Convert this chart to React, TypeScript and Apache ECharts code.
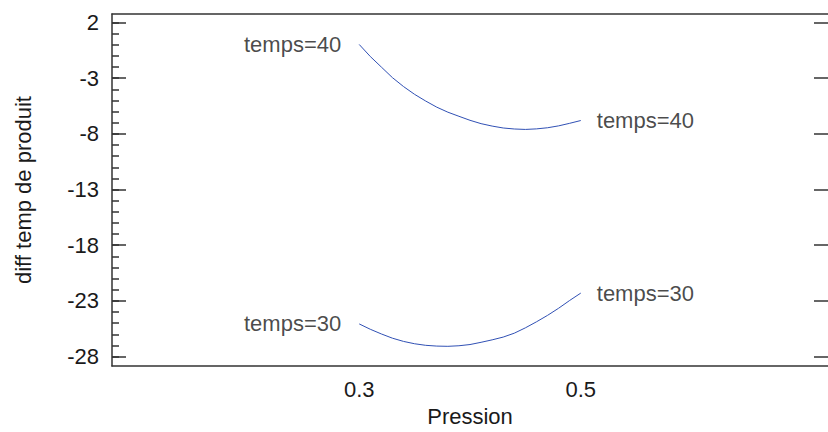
import React, { useEffect, useRef } from "react";
import * as echarts from "echarts";

const pression = [0.30, 0.31, 0.32, 0.33, 0.34, 0.35, 0.36, 0.37, 0.38, 0.39, 0.40, 0.41, 0.42, 0.43, 0.44, 0.45, 0.46, 0.47, 0.48, 0.49, 0.50];
const temps40 = [0.03, -1.05, -2.0, -2.95, -3.75, -4.45, -5.05, -5.6, -6.05, -6.42, -6.78, -7.08, -7.3, -7.47, -7.56, -7.6, -7.55, -7.45, -7.28, -7.05, -6.8];
const temps30 = [-25.07, -25.55, -25.97, -26.35, -26.64, -26.85, -26.99, -27.06, -27.08, -27.03, -26.92, -26.72, -26.5, -26.25, -25.9, -25.42, -24.88, -24.3, -23.66, -22.96, -22.3];
const seriesNames = ["temps=40", "temps=30"];
const yMajorTicks = [2, -3, -8, -13, -18, -23, -28];
const yMinorTicks = Array.from({ length: 31 }, (_, i) => 2 - i);
const xTicks = [0.3, 0.5];

const FONT = "Liberation Sans";
const AXIS_COLOR = "#333333";
const LINE_COLOR = "#3050b4";

export default function App() {
  const ref = useRef<HTMLDivElement>(null);
  useEffect(() => {
    if (!ref.current) return;
    const chart = echarts.init(ref.current, null, { renderer: "svg" });
    const yMin = -28.857;
    const yMax = 2.768;
    const xMin = 0.0768;
    const xMax = 0.7232;
    const textStyle = { fontFamily: FONT, fontSize: 22, color: "#1a1a1a" };
    const curves = [temps40, temps30];
    const lineSeries = curves.map((vals, k) => ({
      type: "line",
      name: seriesNames[k],
      data: pression.map((p, i) => [p, vals[i]]),
      showSymbol: false,
      symbol: "none",
      lineStyle: { color: LINE_COLOR, width: 1 },
      itemStyle: { color: LINE_COLOR },
      silent: true,
    }));
    const labelSeries = curves.map((vals, k) => ({
      type: "scatter",
      symbolSize: 0,
      silent: true,
      data: [
        {
          value: [pression[0], vals[0]],
          label: { show: true, position: "left", distance: 18, formatter: seriesNames[k], ...textStyle },
        },
        {
          value: [pression[pression.length - 1], vals[vals.length - 1]],
          label: { show: true, position: "right", distance: 16, formatter: seriesNames[k], ...textStyle },
        },
      ],
    }));
    chart.setOption({
      animation: false,
      backgroundColor: "#ffffff",
      grid: {
        left: 112,
        top: 14,
        width: 724,
        height: 358,
        show: false,
      },
      xAxis: [
        {
          type: "value",
          min: xMin,
          max: xMax,
          position: "bottom",
          name: "Pression",
          nameLocation: "middle",
          nameGap: 36,
          nameTextStyle: textStyle,
          axisLine: { show: true, onZero: false, lineStyle: { color: AXIS_COLOR, width: 1.5 } },
          axisTick: { show: false },
          splitLine: { show: false },
          axisLabel: { customValues: xTicks, margin: 12, ...textStyle, formatter: (v: number) => v.toFixed(1) },
        },
        {
          type: "value",
          min: xMin,
          max: xMax,
          position: "top",
          axisLine: { show: true, onZero: false, lineStyle: { color: AXIS_COLOR, width: 1.5 } },
          axisTick: { show: false },
          splitLine: { show: false },
          axisLabel: { show: false },
        },
      ],
      yAxis: [
        {
          type: "value",
          min: yMin,
          max: yMax,
          position: "left",
          name: "diff temp de produit",
          nameLocation: "middle",
          nameGap: 78,
          nameTextStyle: textStyle,
          axisLine: { show: true, onZero: false, lineStyle: { color: AXIS_COLOR, width: 1.5 } },
          axisTick: { show: true, inside: true, length: 14, customValues: yMajorTicks, lineStyle: { color: AXIS_COLOR, width: 1.5 } },
          axisLabel: { customValues: yMajorTicks, margin: 13, ...textStyle },
          splitLine: { show: false },
        },
        {
          type: "value",
          min: yMin,
          max: yMax,
          position: "left",
          axisLine: { show: false, onZero: false },
          axisTick: { show: true, inside: true, length: 7, customValues: yMinorTicks, lineStyle: { color: AXIS_COLOR, width: 1.5 } },
          axisLabel: { show: false },
          splitLine: { show: false },
        },
        {
          type: "value",
          min: yMin,
          max: yMax,
          position: "right",
          axisLine: { show: false, onZero: false },
          axisTick: { show: true, inside: true, length: 14, customValues: yMajorTicks, lineStyle: { color: AXIS_COLOR, width: 1.5 } },
          axisLabel: { show: false },
          splitLine: { show: false },
        },
      ],
      series: [...lineSeries, ...labelSeries],
    });
    return () => chart.dispose();
  }, []);
  return (
    <div style={{ position: "absolute", left: 0, top: 0, width: 828, height: 432, overflow: "hidden" }}>
      <div ref={ref} style={{ width: 828, height: 432 }} />
    </div>
  );
}
